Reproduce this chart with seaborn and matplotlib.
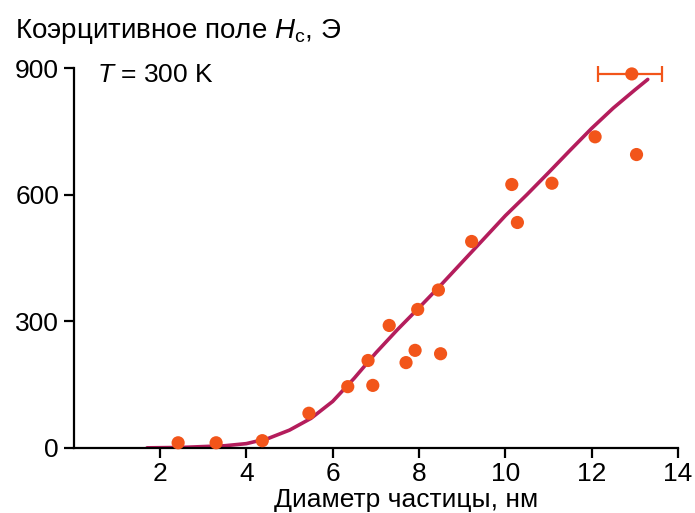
import matplotlib
matplotlib.use("Agg")
import matplotlib.pyplot as plt
import seaborn as sns
import pandas as pd

# Данные: измеренные точки
diam = [2.42, 3.30, 4.37, 5.45, 6.35, 6.93, 6.82, 7.31, 7.70, 7.91,
        7.97, 8.50, 8.45, 9.22, 10.28, 10.15, 11.08, 12.08, 13.04, 12.93]
hc = [12, 12, 17, 82, 145, 148, 207, 290, 202, 231,
      328, 223, 374, 489, 534, 624, 627, 737, 695, 886]

# Погрешность последней точки (границы по диаметру)
err_x = 12.93
err_y = 886
err_lo = 12.15
err_hi = 13.64

# Теоретическая кривая
curve_d = [1.7, 2.5, 3.0, 3.5, 4.0, 4.5, 5.0, 5.5, 6.0, 6.5, 7.0, 7.5, 8.0,
           8.5, 9.0, 9.5, 10.0, 10.5, 11.0, 11.5, 12.0, 12.5, 13.0, 13.3]
curve_hc = [0, 1, 3, 5, 10, 22, 42, 70, 110, 165, 225, 280, 332,
            385, 440, 495, 550, 600, 652, 705, 757, 805, 848, 873]

xticks = [2, 4, 6, 8, 10, 12, 14]
yticks = [0, 300, 600, 900]

dot_color = "#f2551a"
line_color = "#b41d5c"

sns.set_style("ticks")
plt.rcParams["font.family"] = ["Liberation Sans", "DejaVu Sans"]
plt.rcParams["mathtext.fontset"] = "custom"
plt.rcParams["mathtext.rm"] = "Liberation Sans"
plt.rcParams["mathtext.it"] = "Liberation Sans:italic"
plt.rcParams["text.color"] = "black"
plt.rcParams["axes.labelcolor"] = "black"
plt.rcParams["xtick.color"] = "black"
plt.rcParams["ytick.color"] = "black"
plt.rcParams["axes.edgecolor"] = "black"

fs = 19

fig = plt.figure(figsize=(6.95, 5.13), dpi=100)
ax = fig.add_axes([0.106, 0.127, 0.8695, 0.7404])

pts = pd.DataFrame({"d": diam, "hc": hc})
crv = pd.DataFrame({"d": curve_d, "hc": curve_hc})

sns.lineplot(data=crv, x="d", y="hc", ax=ax, color=line_color, lw=2.6,
             sort=True, zorder=2)
ax.errorbar([err_x], [err_y], xerr=[[err_x - err_lo], [err_hi - err_x]],
            fmt="none", ecolor=dot_color, elinewidth=1.6, capsize=6,
            capthick=1.6, zorder=3, clip_on=False)
sns.scatterplot(data=pts, x="d", y="hc", ax=ax, color=dot_color, s=90,
                edgecolor="none", zorder=4, clip_on=False)

ax.set_xlim(0, 14)
ax.set_ylim(0, 900)
ax.set_xticks(xticks)
ax.set_yticks(yticks)
ax.set_xlabel("")
ax.set_ylabel("")
sns.despine(ax=ax)
for s in ["left", "bottom"]:
    ax.spines[s].set_linewidth(1.6)
ax.tick_params(axis="both", length=7.5, width=1.6, labelsize=fs)
ax.tick_params(axis="x", pad=3)
ax.tick_params(axis="y", pad=3)

ax.text(0.54, 867, "$T$ = 300 K", fontsize=fs, va="baseline", ha="left")
fig.text(0.022, 1 - 38 / 513, "Коэрцитивное поле $H_{\\mathrm{с}}$, Э",
         fontsize=20, va="baseline", ha="left")
fig.text(406 / 695, 6 / 513, "Диаметр частицы, нм", fontsize=fs,
         va="baseline", ha="center")

fig.savefig("out.png", dpi=100)
